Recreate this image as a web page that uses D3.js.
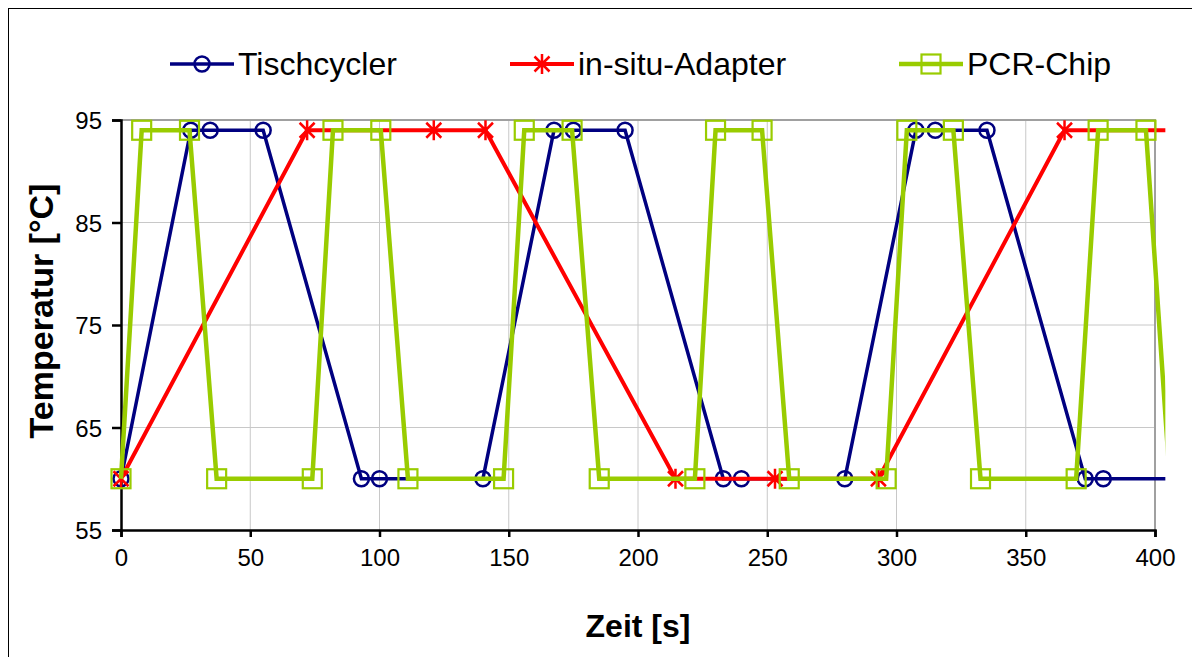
<!DOCTYPE html>
<html>
<head>
<meta charset="utf-8">
<script src="https://cdn.jsdelivr.net/npm/d3@7"></script>
<style>
  html, body { margin: 0; padding: 0; background: #fff; }
  svg { display: block; font-family: "Liberation Sans", Arial, sans-serif; }
</style>
</head>
<body>
<svg id="chart" width="1192" height="657"></svg>
<script>
// values
var seriesNames = ["Tischcycler", "in-situ-Adapter", "PCR-Chip"];

var tischTime = [0, 27, 34.5, 55, 93, 100, 140, 167.5, 175, 195, 233, 240, 280, 307.5, 315, 335, 373, 380, 420];
var tischTemp = [60, 94, 94, 94, 60, 60, 60, 94, 94, 94, 60, 60, 60, 94, 94, 94, 60, 60, 60];

var adapterTime = [0, 72, 121, 141, 214.5, 253, 293, 365, 414];
var adapterTemp = [60, 94, 94, 94, 60, 60, 60, 94, 94];

var chipTime = [0, 8, 26.5, 37, 74, 82, 100.5, 111, 148, 156, 174.5, 185, 222, 230, 248, 258.5, 296, 304, 322, 332.5, 369.5, 378, 396.5, 405.7];
var chipTemp = [60, 94, 94, 60, 60, 94, 94, 60, 60, 94, 94, 60, 60, 94, 94, 60, 60, 94, 94, 60, 60, 94, 94, 60];

var xTicks = [0, 50, 100, 150, 200, 250, 300, 350, 400];
var yTicks = [55, 65, 75, 85, 95];

(function () {
  "use strict";

  var svg = d3.select("#chart");
  var left = 121, right = 1155, top = 120, bottom = 530;

  var x = d3.scaleLinear().domain([0, 400]).range([left, right]);
  var y = d3.scaleLinear().domain([55, 95]).range([bottom, top]);

  var series = [
    { name: seriesNames[0], t: tischTime, v: tischTemp, color: "#000080", width: 3.5, marker: "circle" },
    { name: seriesNames[1], t: adapterTime, v: adapterTemp, color: "#ff0000", width: 4, marker: "star" },
    { name: seriesNames[2], t: chipTime, v: chipTemp, color: "#99cc00", width: 4.5, marker: "square" }
  ];

  // outer chart border (runs off the bottom/right edge in the original)
  svg.append("rect")
    .attr("x", 8.5).attr("y", 8.5)
    .attr("width", 1300).attr("height", 800)
    .attr("fill", "none").attr("stroke", "#000").attr("stroke-width", 1);

  // gridlines
  svg.append("g").selectAll("line")
    .data(xTicks.slice(1, -1))
    .join("line")
    .attr("x1", function (d) { return x(d); }).attr("x2", function (d) { return x(d); })
    .attr("y1", top).attr("y2", bottom)
    .attr("stroke", "#c8c8c8").attr("stroke-width", 1);

  svg.append("g").selectAll("line")
    .data(yTicks.slice(1, -1))
    .join("line")
    .attr("x1", left).attr("x2", right)
    .attr("y1", function (d) { return y(d); }).attr("y2", function (d) { return y(d); })
    .attr("stroke", "#c8c8c8").attr("stroke-width", 1);

  // plot area frame (top and right in grey)
  svg.append("path")
    .attr("d", "M" + left + "," + top + "H" + right + "V" + bottom)
    .attr("fill", "none").attr("stroke", "#a0a0a0").attr("stroke-width", 2);

  // axes
  var xAxis = svg.append("g")
    .attr("transform", "translate(0," + bottom + ")")
    .call(d3.axisBottom(x).tickValues(xTicks).tickSize(7).tickPadding(12).tickFormat(d3.format("d")));
  var yAxis = svg.append("g")
    .attr("transform", "translate(" + left + ",0)")
    .call(d3.axisLeft(y).tickValues(yTicks).tickSize(9).tickPadding(10).tickFormat(d3.format("d")));

  [xAxis, yAxis].forEach(function (ax) {
    ax.select(".domain").attr("stroke", "#000").attr("stroke-width", 2.5);
    ax.selectAll(".tick line").attr("stroke", "#000").attr("stroke-width", 2.5);
    ax.selectAll(".tick text")
      .attr("fill", "#000")
      .style("font-size", "24px")
      .style("font-family", "'Liberation Sans', Arial, sans-serif");
  });
  yAxis.selectAll(".tick text").attr("dy", "0.36em");

  // axis titles
  svg.append("text")
    .attr("x", (left + right) / 2).attr("y", 637)
    .attr("text-anchor", "middle")
    .style("font-size", "32px").style("font-weight", "bold")
    .text("Zeit [s]");

  svg.append("text")
    .attr("transform", "translate(53," + ((top + bottom) / 2 - 14) + ") rotate(-90)")
    .attr("text-anchor", "middle")
    .style("font-size", "34px").style("font-weight", "bold")
    .text("Temperatur [°C]");

  // data: lines run slightly past the plot frame, markers stop at it
  svg.append("clipPath").attr("id", "clip")
    .append("rect")
    .attr("x", 0).attr("y", 0)
    .attr("width", x(404)).attr("height", 657);

  var plot = svg.append("g").attr("clip-path", "url(#clip)");

  var line = d3.line()
    .x(function (d) { return x(d[0]); })
    .y(function (d) { return y(d[1]); });

  function drawMarker(g, kind, color) {
    if (kind === "circle") {
      g.append("circle").attr("r", 7.5)
        .attr("fill", "none").attr("stroke", color).attr("stroke-width", 2.5);
    } else if (kind === "square") {
      g.append("rect").attr("x", -9.5).attr("y", -9.5).attr("width", 19).attr("height", 19)
        .attr("fill", "none").attr("stroke", color).attr("stroke-width", 2.2);
    } else {
      var r = 10, d = 7.5;
      g.append("path")
        .attr("d", "M0," + (-r) + "V" + r + "M" + (-d) + "," + (-d) + "L" + d + "," + d + "M" + (-d) + "," + d + "L" + d + "," + (-d))
        .attr("fill", "none").attr("stroke", color).attr("stroke-width", 2.5);
    }
  }

  series.forEach(function (s) {
    var pts = s.t.map(function (t, i) { return [t, s.v[i]]; });
    var g = plot.append("g");
    g.append("path")
      .datum(pts)
      .attr("d", line)
      .attr("fill", "none")
      .attr("stroke", s.color)
      .attr("stroke-width", s.width)
      .attr("stroke-linejoin", "miter");
    g.selectAll("g")
      .data(pts.filter(function (d) { return d[0] <= 400; }))
      .join("g")
      .attr("transform", function (d) { return "translate(" + x(d[0]) + "," + y(d[1]) + ")"; })
      .each(function () { drawMarker(d3.select(this), s.marker, s.color); });
  });

  // legend
  var legendX = [238, 578, 967];
  var legend = svg.append("g");
  series.forEach(function (s, i) {
    var lg = legend.append("g").attr("transform", "translate(" + legendX[i] + ",64)");
    lg.append("line").attr("x1", -68).attr("x2", -4).attr("y1", 0).attr("y2", 0)
      .attr("stroke", s.color).attr("stroke-width", s.width);
    var m = lg.append("g").attr("transform", "translate(-36,0)");
    drawMarker(m, s.marker, s.color);
    lg.append("text").attr("x", 0).attr("y", 11)
      .style("font-size", "32px")
      .text(s.name);
  });
})();
</script>
</body>
</html>
